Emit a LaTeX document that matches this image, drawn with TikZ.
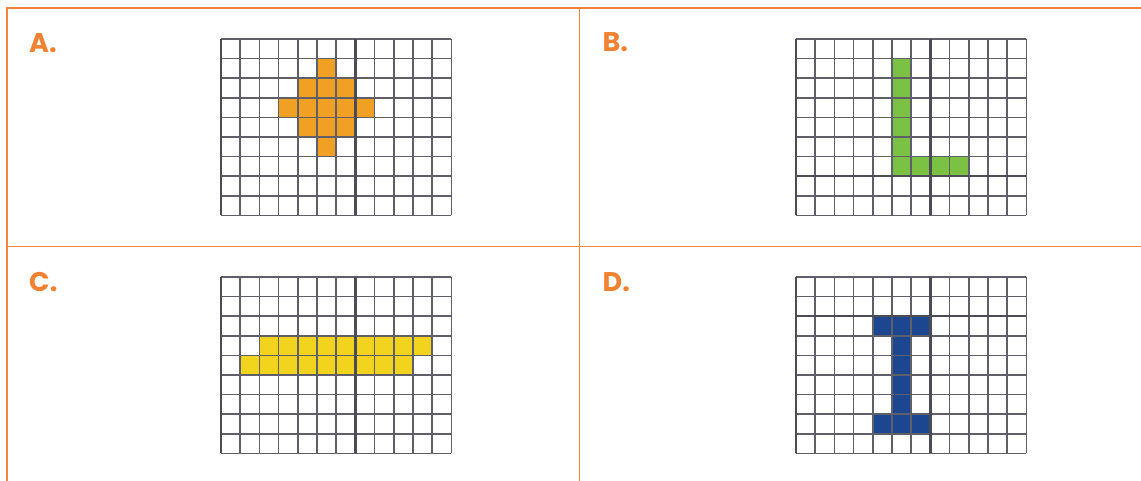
\documentclass[tikz,border=0pt]{standalone}
\usepackage{fontspec}
\newfontfamily\labfont{Poppins}
\definecolor{tblorange}{RGB}{242,132,58}
\definecolor{laborange}{RGB}{240,130,50}
\definecolor{gridgray}{RGB}{95,95,105}
\definecolor{fillA}{RGB}{240,160,35}
\definecolor{fillB}{RGB}{123,193,67}
\definecolor{fillC}{RGB}{242,212,30}
\definecolor{fillD}{RGB}{29,70,144}
\tikzset{
  tbl/.style={draw=tblorange, line width=1.3pt},
  lab/.style={font=\labfont\bfseries\fontsize{27}{30}\selectfont, text=laborange, inner sep=0pt, anchor=base west},
  gline/.style={draw=gridgray, line width=1.5pt},
  gaxis/.style={draw=gridgray!80!black, line width=2.2pt},
}
\newcommand{\mygrid}{%
  \foreach \i in {0,...,12} {\draw[gline] (\i,0) -- (\i,9);}
  \foreach \j in {0,...,9} {\draw[gline] (0,\j) -- (12,\j);}
  \draw[gaxis] (7,0) -- (7,9);
  \draw[gaxis] (0,0) -- (0,9);
}
\newcommand{\cell}[2]{\fill (#1,#2) rectangle ++(1,1);}
\begin{document}
\begin{tikzpicture}[x=1pt,y=-1pt]
\useasboundingbox (0,0) rectangle (1141,481);
\fill[white] (0,0) rectangle (1141,481);
% table
\draw[tbl] (7,481) -- (7,8) -- (1141,8);
\draw[tbl] (7,246.5) -- (1141,246.5);
\draw[tbl] (579.5,8) -- (579.5,481);
% labels
\node[lab] (la) at (29,52.3) {A.};
\node[lab] (lb) at (602.5,51.7) {B.};
\node[lab] (lc) at (29,291.7) {C.};
\node[lab] (ld) at (602.5,291.7) {D.};
% grid A
\begin{scope}[shift={(221,39)}, x=19.2pt, y=-19.6pt]
  \begin{scope}[fill=fillA]
    \cell{5}{1}
    \cell{4}{2}\cell{5}{2}\cell{6}{2}
    \foreach \c in {3,...,7} {\cell{\c}{3}}
    \cell{4}{4}\cell{5}{4}\cell{6}{4}
    \cell{5}{5}
  \end{scope}
  \mygrid
\end{scope}
% grid B
\begin{scope}[shift={(796,39)}, x=19.2pt, y=-19.6pt]
  \begin{scope}[fill=fillB]
    \foreach \r in {1,...,6} {\cell{5}{\r}}
    \foreach \c in {6,7,8} {\cell{\c}{6}}
  \end{scope}
  \mygrid
  \draw[gaxis] (0,7) -- (12,7);
\end{scope}
% grid C
\begin{scope}[shift={(221,277)}, x=19.2pt, y=-19.6pt]
  \begin{scope}[fill=fillC]
    \foreach \c in {2,...,10} {\cell{\c}{3}}
    \foreach \c in {1,...,9} {\cell{\c}{4}}
  \end{scope}
  \mygrid
\end{scope}
% grid D
\begin{scope}[shift={(796,277)}, x=19.2pt, y=-19.6pt]
  \begin{scope}[fill=fillD]
    \cell{4}{2}\cell{5}{2}\cell{6}{2}
    \foreach \r in {3,...,6} {\cell{5}{\r}}
    \cell{4}{7}\cell{5}{7}\cell{6}{7}
  \end{scope}
  \mygrid
  \draw[gaxis] (0,2) -- (12,2);
\end{scope}
\end{tikzpicture}
\end{document}
